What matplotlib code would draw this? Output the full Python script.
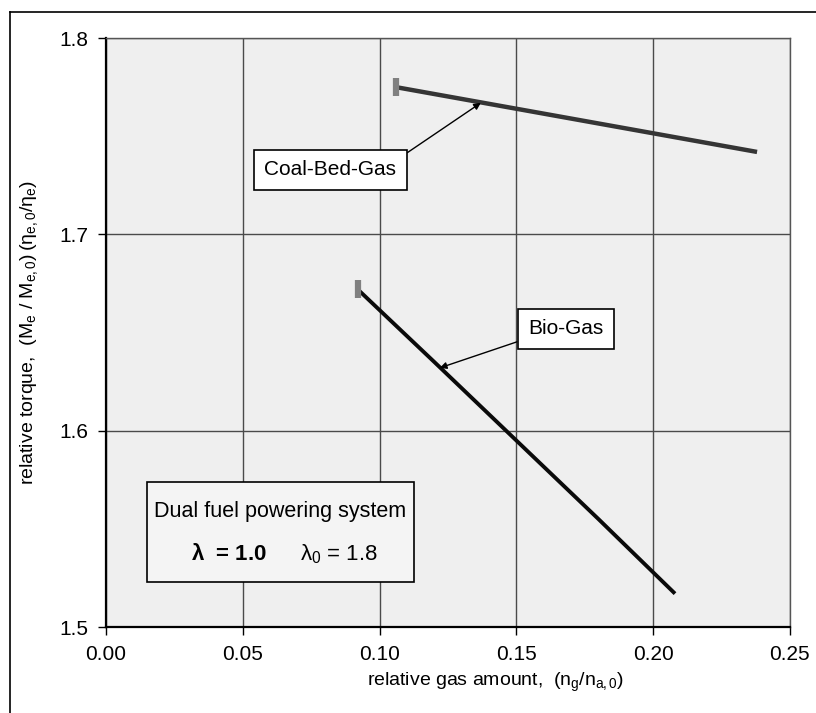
import matplotlib
matplotlib.use('Agg')
import matplotlib.pyplot as plt
from matplotlib.patches import Rectangle

coal_x = [0.106, 0.130, 0.150, 0.170, 0.190, 0.210, 0.238]
coal_y = [1.775, 1.769, 1.764, 1.759, 1.754, 1.749, 1.742]
bio_x = [0.092, 0.120, 0.150, 0.180, 0.208]
bio_y = [1.672, 1.635, 1.595, 1.555, 1.517]
xticks = [0.00, 0.05, 0.10, 0.15, 0.20, 0.25]
yticks = [1.5, 1.6, 1.7, 1.8]

plt.rcParams['font.family'] = ['Liberation Sans', 'DejaVu Sans']
plt.rcParams['mathtext.fontset'] = 'custom'
plt.rcParams['mathtext.rm'] = 'Liberation Sans'
plt.rcParams['mathtext.it'] = 'Liberation Sans'
plt.rcParams['mathtext.bf'] = 'Liberation Sans:bold'

fig = plt.figure(figsize=(8.16, 7.13), dpi=100)
ax = fig.add_axes([0.130, 0.1206, 0.838, 0.826])
ax.set_facecolor('#efefef')

# outer chart border (top and left visible)
fig.add_artist(plt.Line2D([10/816, 1.0], [1-12/713, 1-12/713], color='black', lw=1.2))
fig.add_artist(plt.Line2D([10/816, 10/816], [0.0, 1-12/713], color='black', lw=1.2))

ax.plot(coal_x, coal_y, color='#353535', lw=3.2, solid_capstyle='butt', zorder=3)
ax.plot(bio_x, bio_y, color='#0a0a0a', lw=2.8, solid_capstyle='butt', zorder=3)
ax.plot(coal_x[0], coal_y[0], marker='|', ms=13, mew=4.5, color='#808080', zorder=4)
ax.plot(bio_x[0], bio_y[0], marker='|', ms=13, mew=4.5, color='#808080', zorder=4)

ax.set_xlim(0, 0.25)
ax.set_ylim(1.5, 1.8)
ax.set_xticks(xticks)
ax.set_yticks(yticks)
ax.set_xticklabels(['%.2f' % v for v in xticks])
ax.set_yticklabels(['%.1f' % v for v in yticks])
ax.tick_params(direction='out', length=6, width=1, labelsize=15, pad=7)
ax.grid(True, color='#4a4a4a', lw=1.0)
ax.set_axisbelow(True)
for s in ax.spines.values():
    s.set_linewidth(1.0)
ax.spines['left'].set_linewidth(1.6)
ax.spines['bottom'].set_linewidth(1.6)
ax.spines['right'].set_color('#555555')
ax.spines['top'].set_color('#555555')

ax.set_xlabel(r'relative gas amount,  $(n_g/n_{a,0})$', fontsize=14)
ax.xaxis.set_label_coords(0.57, -0.075)
ax.set_ylabel(r'relative torque,  $(M_e\ /\ M_{e,0})\,(\eta_{e,0}/\eta_e)$',
              fontsize=14)
ax.yaxis.set_label_coords(-0.097, 0.5)

box = dict(boxstyle='square,pad=0.5', fc='white', ec='black', lw=1.2)
arrow = dict(arrowstyle='-|>', color='black', lw=1.0, mutation_scale=10,
             shrinkA=0, shrinkB=0)
ax.annotate('Coal-Bed-Gas', xy=(0.137, 1.767), xytext=(0.082, 1.733),
            fontsize=15, ha='center', va='center', bbox=box,
            arrowprops=dict(arrow, relpos=(1.0, 1.0)))
ax.annotate('Bio-Gas', xy=(0.122, 1.632), xytext=(0.168, 1.652),
            fontsize=15, ha='center', va='center', bbox=box,
            arrowprops=dict(arrow, relpos=(0.0, 0.0)))

ax.add_patch(Rectangle((0.06, 0.076), 0.39, 0.17, transform=ax.transAxes,
                       fc='#f4f4f4', ec='black', lw=1.2, zorder=5))
ax.text(0.255, 0.196, 'Dual fuel powering system', transform=ax.transAxes,
        fontsize=15.5, ha='center', va='center', zorder=6)
ax.text(0.18, 0.123, r'$\mathbf{\lambda}$  = 1.0', transform=ax.transAxes,
        fontsize=16, fontweight='bold', ha='center', va='center', zorder=6)
ax.text(0.34, 0.123, r'$\lambda_0$ = 1.8', transform=ax.transAxes,
        fontsize=16, ha='center', va='center', zorder=6)

fig.savefig('out.png', dpi=100)
